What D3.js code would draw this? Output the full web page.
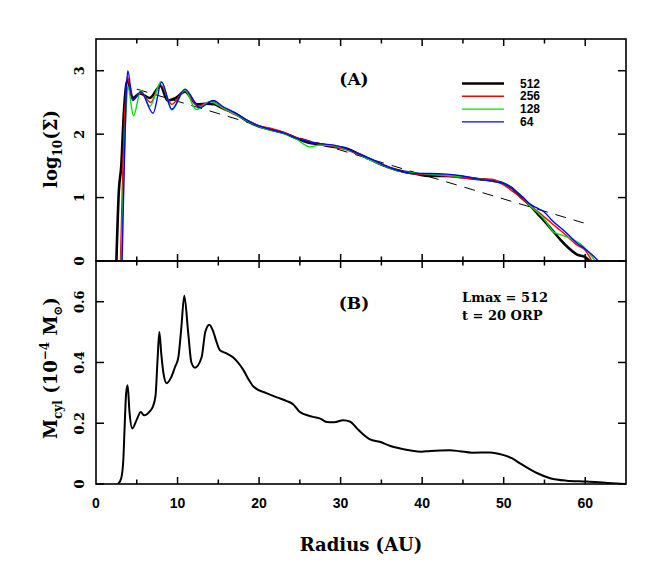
<!DOCTYPE html>
<html><head><meta charset="utf-8">
<script src="https://cdn.jsdelivr.net/npm/d3@7"></script>
<style>body{margin:0;background:#fff}</style>
</head><body>
<svg id="c" width="665" height="583"></svg>
<script>
// ---------- data ----------
const xTicks = [0,10,20,30,40,50,60];
const yTicksA = [0,1,2,3];
const yTicksB = [0,0.2,0.4,0.6];
const seriesNames = ["512","256","128","64"];
const seriesColors = ["#000000","#ff0000","#00e000","#0000ff"];

const r512 = [2.5,2.8,3.1,3.4,3.85,4.5,5.4,6.6,7.9,8.8,9.8,10.9,12.4,13.6,14.5,15.5,17,18.5,20,21.5,23,24.5,26,27.5,29,30.5,32,33.5,35,37,39,41,43,45,47,48.5,50,51,52,53.2,54.2,55,56,57,58,59,60,60.5];
const v512 = [0,1.1,1.5,2.3,2.85,2.57,2.64,2.57,2.76,2.53,2.57,2.67,2.47,2.48,2.47,2.41,2.33,2.21,2.12,2.07,2.02,1.94,1.87,1.84,1.80,1.78,1.70,1.61,1.52,1.43,1.38,1.34,1.34,1.32,1.29,1.27,1.22,1.15,1.02,0.88,0.74,0.63,0.48,0.33,0.20,0.10,0.06,0];

const r256 = [3.0,3.3,3.6,3.85,4.5,5.5,6.7,7.9,9.3,10.9,12.5,14.2,15.5,17,18.5,20,21.5,23,24.5,26,27.5,29,30.5,32,33.5,35,37,39,41,43,45,47,48.5,50,51.5,53.2,54.2,55.3,56.5,57.7,59,60,60.8];
const v256 = [0,1.5,2.5,2.9,2.54,2.65,2.50,2.78,2.47,2.69,2.44,2.52,2.41,2.31,2.22,2.13,2.09,2.03,1.95,1.89,1.85,1.81,1.76,1.69,1.61,1.52,1.43,1.37,1.36,1.34,1.31,1.29,1.29,1.20,1.06,0.88,0.78,0.66,0.53,0.40,0.25,0.17,0];

const r128 = [3.1,3.4,3.7,3.9,4.6,5.5,6.6,8.0,9.3,10.9,12.3,14.0,15.5,17,18.5,20,21.5,23,24.5,26.2,27.5,29,30.5,32,33.5,35,37,39,41,43,45,47,48.5,50,51.3,52.4,53.2,54.2,54.9,56.1,57.3,58.5,59.4,60.2,61.2];
const v128 = [0,1.4,2.4,2.75,2.29,2.69,2.44,2.83,2.38,2.69,2.39,2.51,2.42,2.32,2.21,2.12,2.06,2.01,1.93,1.80,1.83,1.82,1.77,1.70,1.60,1.52,1.42,1.39,1.37,1.35,1.33,1.29,1.26,1.22,1.12,1.0,0.88,0.76,0.67,0.46,0.40,0.34,0.27,0.17,0];

const r64 = [3.2,3.45,3.7,3.9,4.5,5.5,7.0,8.05,9.3,10.9,12.75,14.4,15.5,17,18.5,20,21.5,23,24.5,26,27.5,29,30.5,32,33.5,35,37,39,41,43,45,47,48.5,50,51.3,52.4,53.2,54.0,54.9,56.0,57.3,58.2,59.0,60.0,61.0,61.6];
const v64 = [0,1.4,2.6,3.0,2.53,2.67,2.33,2.82,2.39,2.71,2.42,2.53,2.44,2.34,2.22,2.13,2.07,2.02,1.94,1.88,1.85,1.83,1.78,1.70,1.62,1.53,1.43,1.38,1.38,1.37,1.34,1.29,1.26,1.22,1.12,1.0,0.90,0.84,0.78,0.63,0.49,0.38,0.28,0.19,0.08,0];

const rFit = [5.0, 59.8];
const vFit = [2.71, 0.60];

const rMcyl = [2.7,3.1,3.35,3.5,3.7,3.88,4.1,4.45,5.0,5.48,5.89,6.62,6.95,7.3,7.55,7.77,8.0,8.3,8.67,9.2,9.69,10.1,10.45,10.83,11.3,11.7,12.14,12.96,13.4,13.9,14.4,14.8,15.2,16.0,16.8,17.4,18.1,18.7,19.3,20.9,22.2,23.4,24.2,25.0,26.6,27.5,28.3,29.2,30.3,31.2,32.0,33.6,34.8,36.1,37.3,38.6,39.9,41.0,43.4,44.6,46.1,48.3,50.0,51.0,52.0,54.0,55.7,57.7,60.2,62.5,64.9];
const vMcyl = [0,0.02,0.079,0.18,0.30,0.325,0.24,0.183,0.212,0.237,0.226,0.24,0.253,0.29,0.41,0.50,0.43,0.36,0.332,0.35,0.385,0.417,0.51,0.62,0.50,0.40,0.383,0.418,0.50,0.524,0.50,0.466,0.44,0.43,0.417,0.40,0.374,0.345,0.321,0.299,0.285,0.273,0.262,0.237,0.221,0.215,0.204,0.203,0.21,0.205,0.183,0.147,0.139,0.125,0.117,0.110,0.106,0.109,0.111,0.108,0.103,0.104,0.095,0.085,0.068,0.037,0.019,0.011,0.008,0.004,0];

// ---------- layout ----------
const svg = d3.select("#c");
const L = 96, R = 626, TA = 39, MID = 261, BB = 484;
const x = d3.scaleLinear().domain([0,65]).range([L,R]);
const yA = d3.scaleLinear().domain([0,3.5]).range([MID,TA]);
const yB = d3.scaleLinear().domain([0,0.734]).range([BB,MID]);

const serif = "'DejaVu Serif', serif";
const sans = "'Liberation Sans', Arial, sans-serif";

function zip(rs, vs){ return rs.map((r,i)=>[r,vs[i]]); }

const defs = svg.append("defs");
defs.append("clipPath").attr("id","clipA").append("rect").attr("x",L).attr("y",TA).attr("width",R-L).attr("height",MID-TA);
defs.append("clipPath").attr("id","clipB").append("rect").attr("x",L).attr("y",MID).attr("width",R-L).attr("height",BB-MID);

// ---------- panel A lines ----------
const lineA = d3.line().x(d=>x(d[0])).y(d=>yA(d[1])).curve(d3.curveMonotoneX);
const gA = svg.append("g").attr("clip-path","url(#clipA)");
gA.append("path").datum(zip(rFit,vFit)).attr("d",d3.line().x(d=>x(d[0])).y(d=>yA(d[1])))
  .attr("fill","none").attr("stroke","#000").attr("stroke-width",1).attr("stroke-dasharray","11,8");
const seriesA = [[r512,v512],[r256,v256],[r128,v128],[r64,v64]];
const widths = [2.6,1.4,1.4,1.4];
seriesA.forEach((s,i)=>{
  gA.append("path").datum(zip(s[0],s[1])).attr("d",lineA)
    .attr("fill","none").attr("stroke",seriesColors[i]).attr("stroke-width",widths[i]).attr("stroke-linejoin","round");
});

// ---------- panel B line ----------
const lineB = d3.line().x(d=>x(d[0])).y(d=>yB(d[1])).curve(d3.curveMonotoneX);
svg.append("g").attr("clip-path","url(#clipB)").append("path").datum(zip(rMcyl,vMcyl)).attr("d",lineB)
  .attr("fill","none").attr("stroke","#000").attr("stroke-width",2).attr("stroke-linejoin","round");

// ---------- frames & ticks ----------
[[TA,MID],[MID,BB]].forEach(([t,b])=>{
  svg.append("rect").attr("x",L).attr("y",t).attr("width",R-L).attr("height",b-t)
    .attr("fill","none").attr("stroke","#000").attr("stroke-width",1.6);
});
const minorX = d3.range(5,65,10);
function xTickMarks(yEdge, dir){
  xTicks.filter(v=>v>0).forEach(v=>{
    svg.append("line").attr("x1",x(v)).attr("x2",x(v)).attr("y1",yEdge).attr("y2",yEdge+dir*7).attr("stroke","#000").attr("stroke-width",1.5);
  });
  minorX.forEach(v=>{
    svg.append("line").attr("x1",x(v)).attr("x2",x(v)).attr("y1",yEdge).attr("y2",yEdge+dir*4.5).attr("stroke","#000").attr("stroke-width",1.5);
  });
}
xTickMarks(TA, 1); xTickMarks(MID, -1); xTickMarks(MID, 1); xTickMarks(BB, -1);

function yTickMarks(scale, ticks){
  ticks.forEach(v=>{
    const yy = scale(v);
    svg.append("line").attr("x1",L).attr("x2",L+8).attr("y1",yy).attr("y2",yy).attr("stroke","#000").attr("stroke-width",1.5);
    svg.append("line").attr("x1",R).attr("x2",R-8).attr("y1",yy).attr("y2",yy).attr("stroke","#000").attr("stroke-width",1.5);
    svg.append("text").attr("transform",`translate(79,${yy}) rotate(-90)`)
      .attr("text-anchor","middle").attr("dominant-baseline","central")
      .attr("font-family",serif).attr("font-weight","bold").attr("font-size",13).text(String(v));
  });
}
yTickMarks(yA, yTicksA);
yTickMarks(yB, yTicksB);

xTicks.forEach(v=>{
  svg.append("text").attr("x",x(v)).attr("y",508).attr("text-anchor","middle")
    .attr("font-family",sans).attr("font-weight","bold").attr("font-size",14).text(String(v));
});

// axis titles
svg.append("text").attr("x",(L+R)/2).attr("y",551).attr("text-anchor","middle")
  .attr("font-family",serif).attr("font-weight","bold").attr("font-size",18).text("Radius (AU)");

const tA = svg.append("text").attr("transform","translate(57,149) rotate(-90)").attr("text-anchor","middle")
  .attr("font-family",serif).attr("font-weight","bold").attr("font-size",18);
tA.append("tspan").text("log");
tA.append("tspan").attr("font-size",12).attr("dy",5).text("10");
tA.append("tspan").attr("dy",-5).text("(Σ)");

const tB = svg.append("text").attr("transform","translate(57,368) rotate(-90)").attr("text-anchor","middle")
  .attr("font-family",serif).attr("font-weight","bold").attr("font-size",18);
tB.append("tspan").text("M");
tB.append("tspan").attr("font-size",12).attr("dy",5).text("cyl");
tB.append("tspan").attr("dy",-5).text(" (10");
tB.append("tspan").attr("font-size",12).attr("dy",-8).text("−4");
tB.append("tspan").attr("dy",8).text(" M");
tB.append("tspan").attr("font-size",12).attr("dy",5).text("⊙");
tB.append("tspan").attr("dy",-5).text(")");

// panel labels
svg.append("text").attr("x",354).attr("y",85).attr("text-anchor","middle")
  .attr("font-family",serif).attr("font-weight","bold").attr("font-size",17).text("(A)");
svg.append("text").attr("x",354).attr("y",309).attr("text-anchor","middle")
  .attr("font-family",serif).attr("font-weight","bold").attr("font-size",17).text("(B)");

// legend
seriesNames.forEach((n,i)=>{
  const yy = 83.5 + i*12.8;
  svg.append("line").attr("x1",462).attr("x2",504).attr("y1",yy).attr("y2",yy)
    .attr("stroke",seriesColors[i]).attr("stroke-width",widths[i]);
  svg.append("text").attr("x",520).attr("y",yy).attr("dominant-baseline","central")
    .attr("font-family",sans).attr("font-weight","bold").attr("font-size",12).text(n);
});

// annotation
svg.append("text").attr("x",462).attr("y",302).attr("font-family",serif).attr("font-weight","bold").attr("font-size",13).text("Lmax = 512");
svg.append("text").attr("x",462).attr("y",320).attr("font-family",serif).attr("font-weight","bold").attr("font-size",13).text("t = 20 ORP");
</script>
</body></html>
